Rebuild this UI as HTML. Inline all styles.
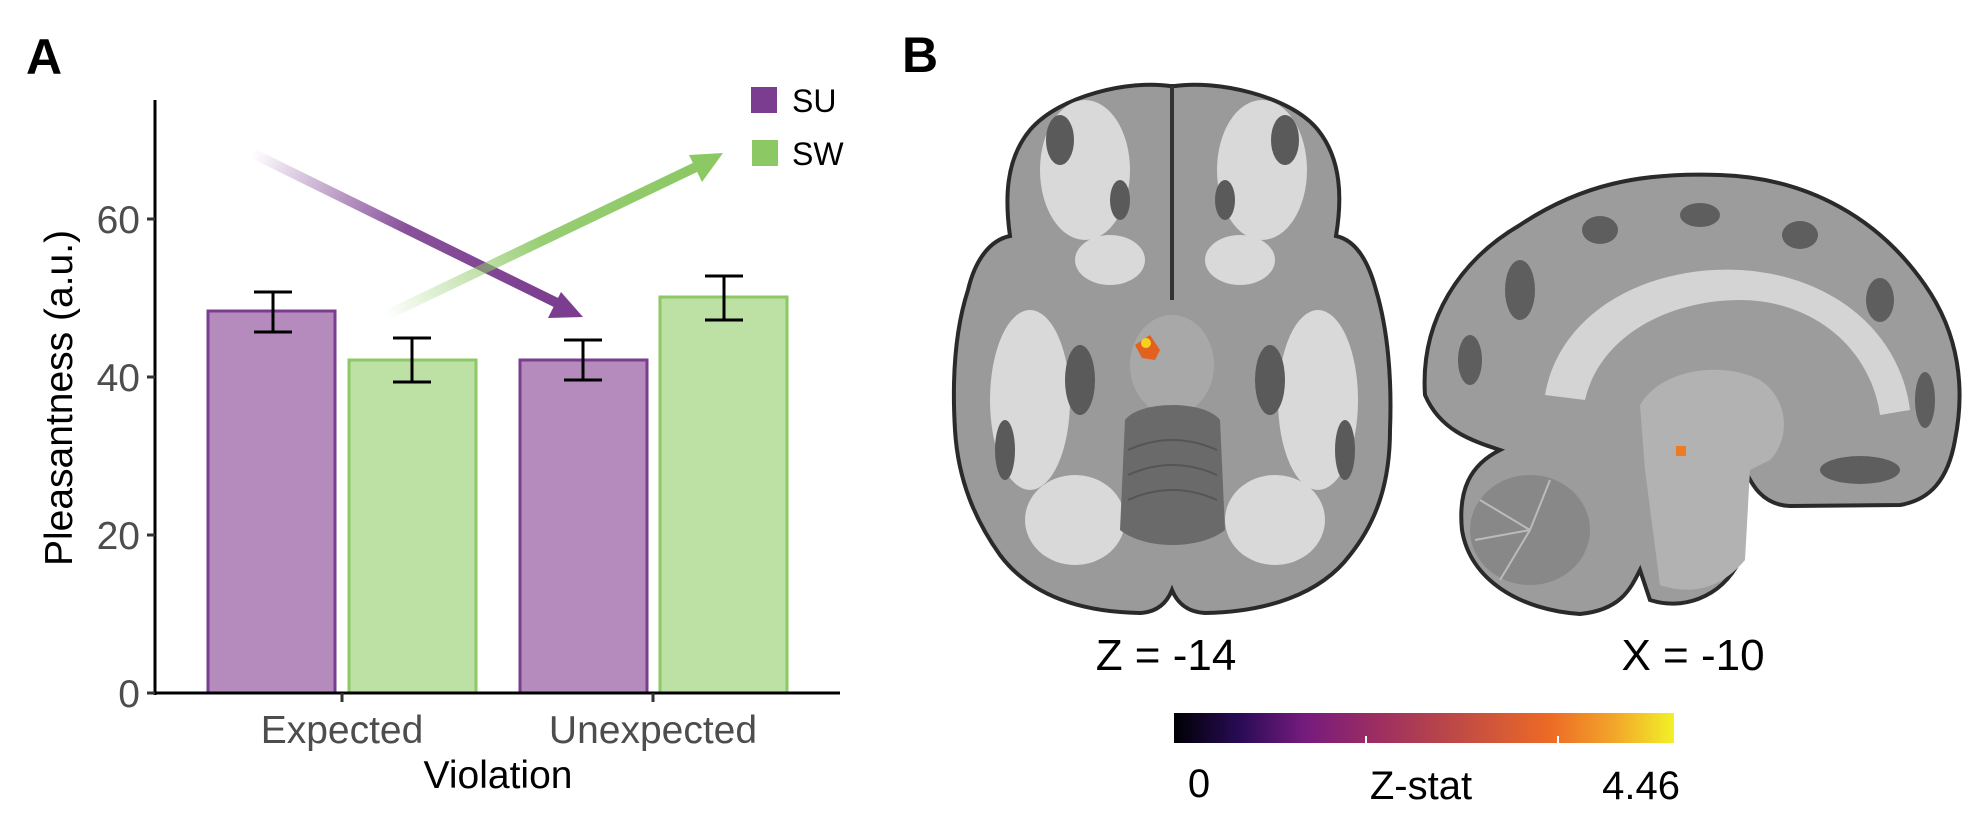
<!DOCTYPE html>
<html><head><meta charset="utf-8"><style>
html,body{margin:0;padding:0;background:#fff;}
body{width:1987px;height:827px;overflow:hidden;}
</style></head><body>
<svg width="1987" height="827" viewBox="0 0 1987 827" xmlns="http://www.w3.org/2000/svg" font-family="Liberation Sans, Arial, sans-serif">
<defs>
<linearGradient id="gp" gradientUnits="userSpaceOnUse" x1="252" y1="153" x2="560" y2="305">
<stop offset="0" stop-color="#7b3d8f" stop-opacity="0"/><stop offset="0.5" stop-color="#7b3d8f" stop-opacity="0.9"/><stop offset="1" stop-color="#7b3d8f"/></linearGradient>
<linearGradient id="gg" gradientUnits="userSpaceOnUse" x1="385" y1="316" x2="700" y2="165">
<stop offset="0" stop-color="#8cc864" stop-opacity="0"/><stop offset="0.5" stop-color="#8cc864" stop-opacity="0.9"/><stop offset="1" stop-color="#8cc864"/></linearGradient>
<linearGradient id="cb" x1="0" x2="1" y1="0" y2="0">
<stop offset="0" stop-color="#000004"/><stop offset="0.13" stop-color="#280b54"/><stop offset="0.26" stop-color="#751b7e"/><stop offset="0.4" stop-color="#9b2d62"/><stop offset="0.55" stop-color="#bb4748"/><stop offset="0.75" stop-color="#ec6a26"/><stop offset="0.88" stop-color="#f3a52a"/><stop offset="1" stop-color="#f2f127"/></linearGradient>
</defs>

<!-- Panel A -->
<text x="26" y="74" font-size="50" font-weight="bold">A</text>
<rect x="208" y="311" width="127" height="382" fill="#b58bbd" stroke="#7b3d8f" stroke-width="3"/>
<rect x="349" y="360" width="127" height="333" fill="#bde0a5" stroke="#8cc864" stroke-width="3"/>
<rect x="520" y="360" width="127" height="333" fill="#b58bbd" stroke="#7b3d8f" stroke-width="3"/>
<rect x="660" y="297" width="127" height="396" fill="#bde0a5" stroke="#8cc864" stroke-width="3"/>
<g stroke="#000" stroke-width="3" fill="none">
<path d="M254 292H292M273 292V332M254 332H292"/>
<path d="M393 338H431M412 338V382M393 382H431"/>
<path d="M564 340H602M583 340V380M564 380H602"/>
<path d="M705 276H743M724 276V320M705 320H743"/>
</g>
<line x1="252" y1="153" x2="557" y2="303" stroke="url(#gp)" stroke-width="10"/>
<polygon points="583,317 548,318 561,292" fill="#7b3d8f"/>
<line x1="385" y1="316" x2="698" y2="166" stroke="url(#gg)" stroke-width="10"/>
<polygon points="723,153 702,182 689,155" fill="#8cc864"/>
<line x1="155" y1="100" x2="155" y2="695" stroke="#000" stroke-width="3"/>
<line x1="153" y1="693" x2="840" y2="693" stroke="#000" stroke-width="3"/>
<g stroke="#333" stroke-width="3">
<line x1="147" y1="693" x2="155" y2="693"/><line x1="147" y1="535" x2="155" y2="535"/>
<line x1="147" y1="377" x2="155" y2="377"/><line x1="147" y1="219" x2="155" y2="219"/>
<line x1="342" y1="693" x2="342" y2="702"/><line x1="653" y1="693" x2="653" y2="702"/>
</g>
<g font-size="39" fill="#4d4d4d" text-anchor="end">
<text x="140" y="707">0</text><text x="140" y="549">20</text><text x="140" y="391">40</text><text x="140" y="233">60</text>
</g>
<g font-size="39" fill="#4d4d4d" text-anchor="middle">
<text x="342" y="743">Expected</text><text x="653" y="743">Unexpected</text>
</g>
<text x="498" y="788" font-size="39" text-anchor="middle">Violation</text>
<text transform="translate(72,398) rotate(-90)" font-size="39" text-anchor="middle">Pleasantness (a.u.)</text>
<rect x="751" y="87" width="26" height="26" fill="#7b3d8f"/>
<rect x="752" y="140" width="26" height="26" fill="#8cc864"/>
<text x="792" y="112" font-size="32">SU</text>
<text x="792" y="165" font-size="32">SW</text>

<!-- Panel B -->
<text x="902" y="72" font-size="50" font-weight="bold">B</text>

<g stroke="#2a2a2a" stroke-width="4">
<path d="M1170 86 C1130 80 1060 95 1030 130 C1005 160 1005 200 1010 236 C990 240 975 260 968 290 C955 330 952 380 955 430 C958 480 975 520 1000 555 C1030 595 1080 612 1140 613 C1160 612 1168 600 1172 590 C1176 600 1185 612 1205 613 C1265 612 1320 595 1350 555 C1378 520 1390 480 1390 430 C1392 380 1388 330 1376 290 C1368 260 1355 240 1336 236 C1342 200 1342 160 1318 130 C1290 95 1215 80 1175 86 Z" fill="#9a9a9a"/>
</g>
<g fill="#d9d9d9">
<ellipse cx="1085" cy="170" rx="45" ry="70"/><ellipse cx="1262" cy="170" rx="45" ry="70"/>
<ellipse cx="1030" cy="400" rx="40" ry="90"/><ellipse cx="1318" cy="400" rx="40" ry="90"/>
<ellipse cx="1075" cy="520" rx="50" ry="45"/><ellipse cx="1275" cy="520" rx="50" ry="45"/>
<ellipse cx="1110" cy="260" rx="35" ry="25"/><ellipse cx="1240" cy="260" rx="35" ry="25"/>
</g>
<g fill="#5a5a5a">
<ellipse cx="1060" cy="140" rx="14" ry="25"/><ellipse cx="1285" cy="140" rx="14" ry="25"/>
<ellipse cx="1080" cy="380" rx="15" ry="35"/><ellipse cx="1270" cy="380" rx="15" ry="35"/>
<ellipse cx="1005" cy="450" rx="10" ry="30"/><ellipse cx="1345" cy="450" rx="10" ry="30"/>
<ellipse cx="1120" cy="200" rx="10" ry="20"/><ellipse cx="1225" cy="200" rx="10" ry="20"/>
</g>
<ellipse cx="1172" cy="365" rx="42" ry="50" fill="#a8a8a8"/>
<path d="M1125 420 C1140 400 1205 400 1220 420 L1225 530 C1200 550 1145 550 1120 530 Z" fill="#6a6a6a"/>
<g stroke="#555" stroke-width="2" fill="none"><path d="M1128 450 Q1172 430 1217 450"/><path d="M1128 475 Q1172 455 1217 475"/><path d="M1128 500 Q1172 480 1217 500"/></g>
<line x1="1172" y1="86" x2="1172" y2="300" stroke="#333" stroke-width="4"/>
<path d="M1135 345 L1150 335 L1160 350 L1155 360 L1142 358 Z" fill="#e2611e"/>
<circle cx="1146" cy="343" r="5" fill="#f5d020"/>

<g stroke="#2a2a2a" stroke-width="4">
<path d="M1425 395 C1420 320 1460 260 1520 225 C1580 185 1640 172 1720 175 C1810 178 1880 220 1925 285 C1960 335 1965 390 1955 440 C1948 480 1930 500 1900 505 L1790 506 C1760 505 1750 480 1745 470 L1740 560 C1720 600 1680 610 1650 600 L1640 570 C1630 590 1620 610 1580 614 C1520 610 1470 580 1462 530 C1458 490 1470 465 1500 450 C1470 440 1440 430 1425 395 Z" fill="#9c9c9c"/>
</g>
<path d="M1545 395 C1560 310 1650 265 1740 270 C1830 275 1900 330 1910 410 L1880 415 C1870 345 1810 300 1740 300 C1670 300 1600 335 1585 400 Z" fill="#d4d4d4"/>
<path d="M1640 405 C1660 370 1720 360 1760 380 C1790 400 1790 440 1770 460 L1750 470 L1745 560 C1720 590 1690 595 1660 585 L1645 470 Z" fill="#b2b2b2"/>
<ellipse cx="1530" cy="530" rx="60" ry="55" fill="#888"/>
<g stroke="#bbb" stroke-width="2"><line x1="1530" y1="530" x2="1480" y2="500"/><line x1="1530" y1="530" x2="1475" y2="540"/><line x1="1530" y1="530" x2="1500" y2="580"/><line x1="1530" y1="530" x2="1550" y2="480"/></g>
<g fill="#5e5e5e">
<ellipse cx="1520" cy="290" rx="15" ry="30"/><ellipse cx="1600" cy="230" rx="18" ry="14"/><ellipse cx="1700" cy="215" rx="20" ry="12"/>
<ellipse cx="1800" cy="235" rx="18" ry="14"/><ellipse cx="1880" cy="300" rx="14" ry="22"/><ellipse cx="1925" cy="400" rx="10" ry="28"/>
<ellipse cx="1470" cy="360" rx="12" ry="25"/><ellipse cx="1860" cy="470" rx="40" ry="14"/>
</g>
<rect x="1676" y="446" width="10" height="10" fill="#ee7a22"/>

<text x="1166" y="670" font-size="44" text-anchor="middle">Z = -14</text>
<text x="1693" y="670" font-size="44" text-anchor="middle">X = -10</text>
<rect x="1174" y="713" width="500" height="30" fill="url(#cb)"/>
<line x1="1366" y1="736" x2="1366" y2="743" stroke="#fff" stroke-width="2"/>
<line x1="1558" y1="736" x2="1558" y2="743" stroke="#fff" stroke-width="2"/>
<text x="1199" y="797" font-size="40" text-anchor="middle">0</text>
<text x="1421" y="799" font-size="40" text-anchor="middle">Z-stat</text>
<text x="1680" y="799" font-size="40" text-anchor="end">4.46</text>
</svg>
</body></html>
